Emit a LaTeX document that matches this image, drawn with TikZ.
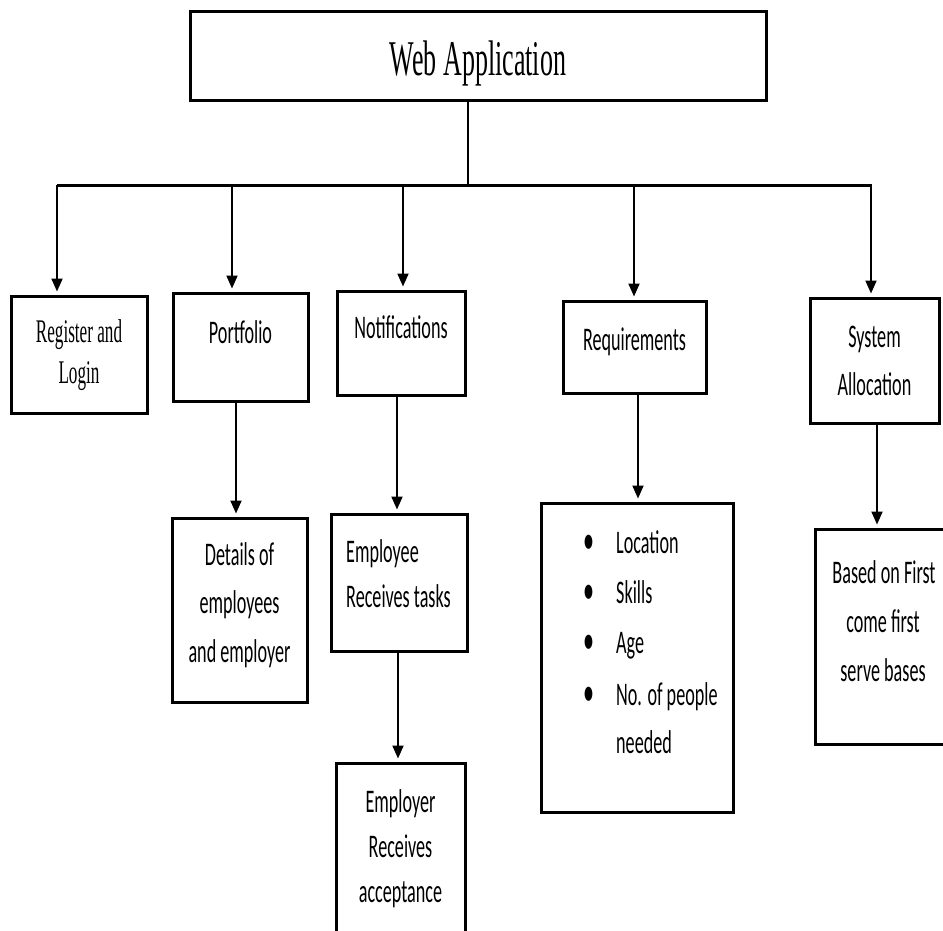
\documentclass[tikz,border=0pt]{standalone}
\usepackage{fontspec}
\usetikzlibrary{arrows.meta}
\newfontfamily\serifc[FakeStretch=0.52]{Liberation Serif}
\newfontfamily\sansc[FakeStretch=0.55]{Carlito}
\begin{document}
\begin{tikzpicture}[x=1pt,y=-1pt,
  box/.style={draw, line width=3pt, inner sep=0pt},
  conn/.style={line width=2pt},
  bus/.style={line width=3pt},
  arr/.style={line width=2pt, -{Triangle[length=13pt,width=11pt]}, shorten >=3pt},
  st/.style={font=\serifc\fontsize{33}{42}\selectfont, anchor=base, inner sep=0pt},
  stt/.style={font=\serifc\fontsize{50}{60}\selectfont, anchor=base, inner sep=0pt},
  ss/.style={font=\sansc\fontsize{33}{42}\selectfont, anchor=base, inner sep=0pt},
  ssw/.style={ss, anchor=base west},
  bul/.style={font=\sansc\fontsize{40}{42}\selectfont, anchor=base, inner sep=0pt}
]
\clip (0,0) rectangle (943,930);
\fill[white] (0,0) rectangle (943,930);

% boxes
\node[box, minimum width=576, minimum height=89] (top) at (478,55.5) {};
\node[box, minimum width=136, minimum height=117] (reg) at (79,354.5) {};
\node[box, minimum width=135, minimum height=108] (port) at (240.5,347) {};
\node[box, minimum width=128, minimum height=104] (noti) at (401,343) {};
\node[box, minimum width=143, minimum height=92] (req) at (634.5,347) {};
\node[box, minimum width=129, minimum height=125] (sys) at (874.5,360.5) {};
\node[box, minimum width=135, minimum height=184] (det) at (239.5,610) {};
\node[box, minimum width=136, minimum height=137] (emp) at (399,582.5) {};
\node[box, minimum width=129, minimum height=197] (empr) at (400.5,861.5) {};
\node[box, minimum width=192, minimum height=309] (list) at (637,657.5) {};
\node[box, minimum width=145, minimum height=215] (fcfs) at (887.5,636.5) {};

% texts
\node[stt] (t0) at (478,75) {Web Application};
\node[st] (t1) at (79,342) {Register and};
\node[st] (t2) at (79,383) {Login};
\node[ss] (t3) at (240.5,343) {Portfolio};
\node[ss] (t4) at (401,338) {Notifications};
\node[ss] (t5) at (634.5,350) {Requirements};
\node[ss] (t6) at (874.5,347) {System};
\node[ss] (t7) at (874.5,395) {Allocation};
\node[ss] (t8) at (239.5,565) {Details of};
\node[ss] (t9) at (239.5,613) {employees};
\node[ss] (t10) at (239.5,662) {and employer};
\node[ssw] (t11) at (346,562) {Employee};
\node[ssw] (t12) at (346,607) {Receives tasks};
\node[ss] (t13) at (400.5,812) {Employer};
\node[ss] (t14) at (400.5,857) {Receives};
\node[ss] (t15) at (400.5,902) {acceptance};
\node[bul] (b1) at (589,553) {•};
\node[bul] (b2) at (589,603) {•};
\node[bul] (b3) at (589,653) {•};
\node[bul] (b4) at (589,705) {•};
\node[ssw] (t16) at (616,553) {Location};
\node[ssw] (t17) at (616,603) {Skills};
\node[ssw] (t18) at (616,653) {Age};
\node[ssw] (t19) at (616,705) {No. of people};
\node[ssw] (t20) at (616,753) {needed};
\node[ss] (t21) at (884,583) {Based on First};
\node[ss] (t22) at (883,632) {come first};
\node[ss] (t23) at (883,681) {serve bases};

% connectors
\coordinate (bj) at (468,185);
\coordinate (bl) at (57,185);
\coordinate (br) at (872,185);
\draw[conn] (top.south -| bj) -- (bj);
\draw[bus] (bl) -- (br);
\coordinate (d2) at (232,185);
\coordinate (d3) at (403,185);
\coordinate (d4) at (634,185);
\coordinate (d5) at (871,185);
\draw[arr] (bl) -- (bl |- reg.north);
\draw[arr] (d2) -- (d2 |- port.north);
\draw[arr] (d3) -- (d3 |- noti.north);
\draw[arr] (d4) -- (d4 |- req.north);
\draw[arr] (d5) -- (d5 |- sys.north);

\coordinate (x1) at (236,0);
\coordinate (x2) at (397,0);
\coordinate (x3) at (398,0);
\coordinate (x4) at (638,0);
\coordinate (x5) at (877,0);
\draw[arr] (port.south -| x1) -- (det.north -| x1);
\draw[arr] (noti.south -| x2) -- (emp.north -| x2);
\draw[arr] (emp.south -| x3) -- (empr.north -| x3);
\draw[arr] (req.south -| x4) -- (list.north -| x4);
\draw[arr] (sys.south -| x5) -- (fcfs.north -| x5);
\end{tikzpicture}
\end{document}
